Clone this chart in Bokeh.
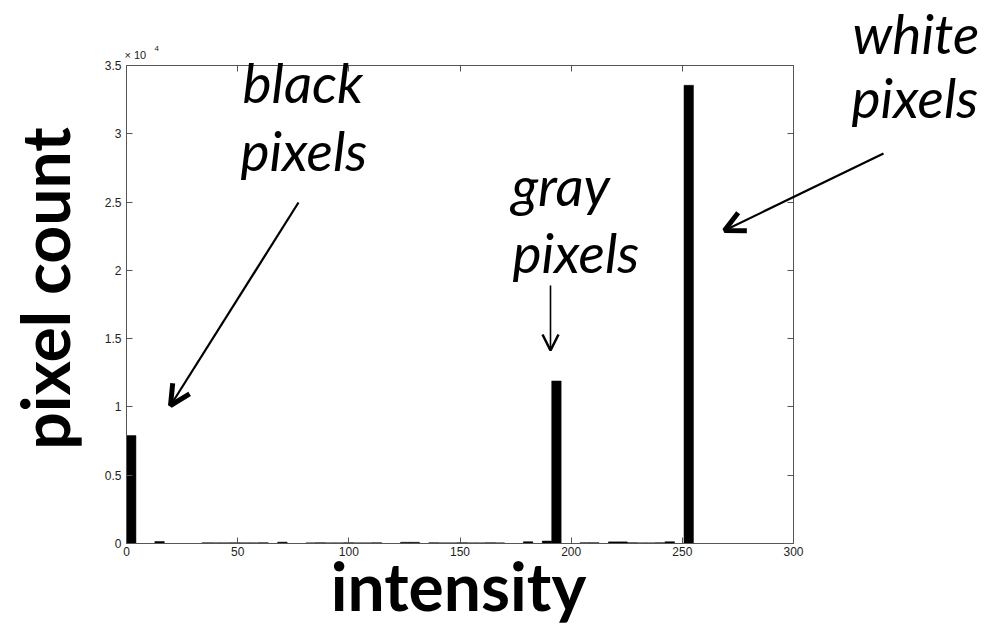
import math
from bokeh.plotting import figure
from bokeh.models import (Range1d, FixedTicker, LinearAxis, Label, Arrow,
                          OpenHead, ColumnDataSource)
from bokeh.embed import file_html
from bokeh.resources import INLINE

# ---------------- data (histogram of an image, 60 bins over 0..255) --------
bin_width = 4.25
bin_centers = [2.125, 14.875, 36.125, 40.375, 44.625, 48.875, 53.125, 57.375,
               61.625, 70.125, 82.875, 87.125, 91.375, 95.625, 99.875, 104.125,
               108.375, 112.625, 125.375, 129.625, 138.125, 142.375, 146.625,
               150.875, 155.125, 159.375, 163.625, 167.875, 180.625, 189.125,
               193.375, 206.125, 210.375, 218.875, 223.125, 227.375, 231.625,
               235.875, 240.125, 244.375, 252.875]
pixel_counts = [7900, 150, 60, 50, 50, 60, 50, 50,
                60, 100, 50, 60, 50, 50, 60, 50,
                50, 60, 90, 90, 60, 50, 50,
                60, 50, 50, 60, 50, 130, 180,
                11900, 60, 60, 120, 120, 60, 50,
                50, 60, 130, 33550]

x_ticks = [0, 50, 100, 150, 200, 250, 300]
y_ticks = [0, 5000, 10000, 15000, 20000, 25000, 30000, 35000]
y_tick_labels = ["0", "0.5", "1", "1.5", "2", "2.5", "3", "3.5"]

# ---------------- geometry --------------------------------------------------
W, H = 998, 626
FL, FT, FR, FB = 126, 65, 793, 543   # axes box edges in canvas px
XMIN, XMAX, YMIN, YMAX = 0, 300, 0, 35000
sx = (XMAX - XMIN) / (FR - FL)
sy = (YMAX - YMIN) / (FB - FT)


def px2x(px):
    return XMIN + (px - FL) * sx


def px2y(py):
    return YMIN + (FB - py) * sy


# the frame covers the whole canvas; the axes box is drawn with fixed axes
p = figure(width=W, height=H, output_backend="svg", toolbar_location=None,
           x_range=Range1d(px2x(0), px2x(W)), y_range=Range1d(px2y(H), px2y(0)),
           x_axis_type=None, y_axis_type=None,
           min_border=0, min_border_left=0, min_border_right=0,
           min_border_top=0, min_border_bottom=0)
p.grid.visible = False
p.outline_line_color = None
p.background_fill_color = "white"
p.border_fill_color = "white"

axis_col = "#555555"
lbl_col = "#222222"
tick_font = "Liberation Sans"


def make_axis(ticks, loc, bounds, show_labels, standoff, overrides=None):
    ax = LinearAxis(ticker=FixedTicker(ticks=ticks), fixed_location=loc,
                    bounds=bounds, major_tick_in=6, major_tick_out=0,
                    minor_tick_line_color=None, axis_line_color=axis_col,
                    axis_line_width=1, major_tick_line_color=axis_col,
                    major_label_text_font=tick_font,
                    major_label_text_font_size="12px",
                    major_label_standoff=standoff)
    if overrides:
        ax.major_label_overrides = overrides
    if not show_labels:
        ax.major_label_text_color = None
    else:
        ax.major_label_text_color = lbl_col
    return ax


p.add_layout(make_axis(x_ticks, YMIN, (XMIN, XMAX), True, 3), "below")
p.add_layout(make_axis(y_ticks, XMIN, (YMIN, YMAX), True, 5,
                       {t: l for t, l in zip(y_ticks, y_tick_labels)}), "left")
p.add_layout(make_axis(x_ticks, YMAX, (XMIN, XMAX), False, 4), "above")
p.add_layout(make_axis(y_ticks, XMAX, (YMIN, YMAX), False, 5), "right")

# ---------------- bars -----------------------------------------------------
src = ColumnDataSource(dict(x=bin_centers, top=pixel_counts))
p.vbar(x="x", top="top", bottom=0, width=bin_width, source=src,
       fill_color="black", line_color="black", line_width=0.5)


# ---------------- labels in canvas pixels ----------------------------------
def label(text, px, py, font, size, style="normal", align="left", angle=0.0,
          color="black"):
    fs = float(size.replace("px", ""))
    off = 0.42 * fs   # empirical baseline correction
    if angle:
        px = px - off
    else:
        py = py - off
    kw = dict(text=text, text_font=font, text_font_size=size,
              text_font_style=style, text_color=color, text_align=align,
              text_baseline="alphabetic", angle=angle, level="overlay")
    try:
        lab = Label(x=px, y=py, x_units="canvas", y_units="canvas", **kw)
    except Exception:
        lab = Label(x=px2x(px), y=px2y(py), **kw)
    p.add_layout(lab)


label("\u00d7 10", 124, 59, tick_font, "11px", color=lbl_col)
label("4", 154, 51, tick_font, "8px", color=lbl_col)

ann_font = "Lato"
ann_size = "55px"
label("black", 242, 105, ann_font, ann_size, "italic")
label("pixels", 240, 173, ann_font, ann_size, "italic")
label("gray", 511, 208, ann_font, ann_size, "italic")
label("pixels", 512, 275, ann_font, ann_size, "italic")
label("white", 852, 56, ann_font, ann_size, "italic")
label("pixels", 851, 120, ann_font, ann_size, "italic")

label("intensity", 458, 613, "Lato", "66px", "bold", align="center")
label("pixel count", 72, 288, "Lato", "66px", "bold", align="center",
      angle=math.pi / 2)


# ---------------- arrows ---------------------------------------------------
def arrow(x0, y0, x1, y1, lw, hw, hs):
    head = OpenHead(size=hs, line_width=hw, line_color="black")
    a = Arrow(end=head, x_start=px2x(x0), y_start=px2y(y0),
              x_end=px2x(x1), y_end=px2y(y1),
              line_width=lw, line_color="black", level="overlay")
    p.add_layout(a)


arrow(298, 202, 170, 405, 2.2, 5, 20)
arrow(883, 153, 724, 230, 2.2, 5, 20)
arrow(550, 285, 550, 350, 1.6, 2.5, 16)

open("out.html", "w").write(file_html(p, INLINE))
